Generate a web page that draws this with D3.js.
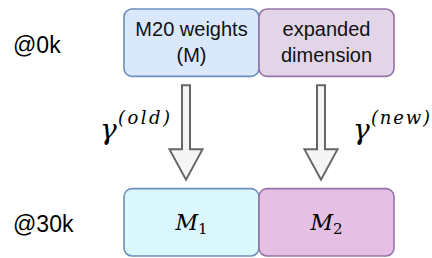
<!DOCTYPE html>
<html>
<head>
<meta charset="utf-8">
<script src="https://cdn.jsdelivr.net/npm/d3@7"></script>
<style>
  body { margin: 0; background: #fff; }
  .stage { font-family: "Liberation Sans", Arial, sans-serif; font-size: 23px; fill: #000; }
  .boxText { font-family: "Liberation Sans", Arial, sans-serif; font-size: 20px; fill: #111; }
  .math { font-family: "DejaVu Serif", serif; font-style: italic; fill: #000; }
</style>
</head>
<body>
<svg id="diagram" width="432" height="258"></svg>
<script>
const stages = ["@0k", "@30k"];
const columns = ["old", "new"];
const topLabels = [["M20 weights", "(M)"], ["expanded", "dimension"]];
const bottomSubscripts = ["1", "2"];

const fills = { old: ["#dae8fc", "#daf7fc"], new: ["#e1d5e7", "#e6c0e4"] };
const strokes = { old: "#6c8ebf", new: "#9673a6" };

const svg = d3.select("#diagram");

const xScale = d3.scaleBand().domain(columns).range([124, 394]).padding(0);
const yScale = d3.scaleBand().domain(stages).range([9, 256]).paddingInner(0.625);
const bw = xScale.bandwidth();
const bh = yScale.bandwidth();

// stage labels
svg.selectAll(".stage")
    .data(stages)
    .enter()
    .append("text")
    .attr("class", "stage")
    .attr("x", 13)
    .attr("y", d => yScale(d) + bh / 2 + 10)
    .text(d => d);

// arrows (drawn before boxes)
const arrowX = col => xScale(col) + bw / 2 - 5.5;
const shaftTop = yScale(stages[0]) + bh + 9;
const headTop = shaftTop + 64;
const tip = yScale(stages[1]) - 9;
const arrowPath = cx => {
    const p = d3.path();
    p.moveTo(cx - 4, shaftTop);
    p.lineTo(cx + 4, shaftTop);
    p.lineTo(cx + 4, headTop);
    p.lineTo(cx + 16.5, headTop);
    p.lineTo(cx, tip);
    p.lineTo(cx - 16.5, headTop);
    p.lineTo(cx - 4, headTop);
    p.closePath();
    return p.toString();
};
svg.selectAll(".arrow")
    .data(columns)
    .enter()
    .append("path")
    .attr("class", "arrow")
    .attr("d", d => arrowPath(arrowX(d)))
    .attr("fill", "#f5f5f5")
    .attr("stroke", "#666666")
    .attr("stroke-width", 2)
    .attr("stroke-linejoin", "miter");

// gamma labels
const gammaPos = { old: { dx: -86, sup: 52 }, new: { dx: 32, sup: 59 } };
columns.forEach(col => {
    svg.append("text")
        .attr("class", "math")
        .attr("x", arrowX(col) + gammaPos[col].dx)
        .attr("y", 139)
        .attr("font-size", 28)
        .text("\u03b3");
    svg.append("text")
        .attr("class", "math")
        .attr("x", arrowX(col) + gammaPos[col].dx + 18)
        .attr("y", 124)
        .attr("font-size", 18)
        .attr("textLength", gammaPos[col].sup)
        .attr("lengthAdjust", "spacing")
        .text(`(${col})`);
});

// boxes
stages.forEach((stage, si) => {
    svg.selectAll(null)
        .data(columns)
        .enter()
        .append("rect")
        .attr("x", d => xScale(d))
        .attr("y", yScale(stage))
        .attr("width", bw)
        .attr("height", bh)
        .attr("rx", 8)
        .attr("fill", d => fills[d][si])
        .attr("stroke", d => strokes[d])
        .attr("stroke-width", 1.6);
});

// top box text
columns.forEach((col, i) => {
    const t = svg.append("text")
        .attr("class", "boxText")
        .attr("text-anchor", "middle")
        .attr("x", xScale(col) + bw / 2)
        .attr("y", yScale(stages[0]) + 27);
    topLabels[i].forEach((line, li) => {
        t.append("tspan")
            .attr("x", xScale(col) + bw / 2)
            .attr("dy", li === 0 ? 0 : 26)
            .text(line);
    });
});

// bottom box text M_1, M_2
columns.forEach((col, i) => {
    const t = svg.append("text")
        .attr("class", "math")
        .attr("text-anchor", "middle")
        .attr("x", xScale(col) + bw / 2)
        .attr("y", yScale(stages[1]) + bh / 2 + 8);
    t.append("tspan").attr("font-size", 22).text("M");
    t.append("tspan").attr("font-size", 15).attr("font-style", "normal").attr("dy", 4).text(bottomSubscripts[i]);
});
</script>
</body>
</html>
